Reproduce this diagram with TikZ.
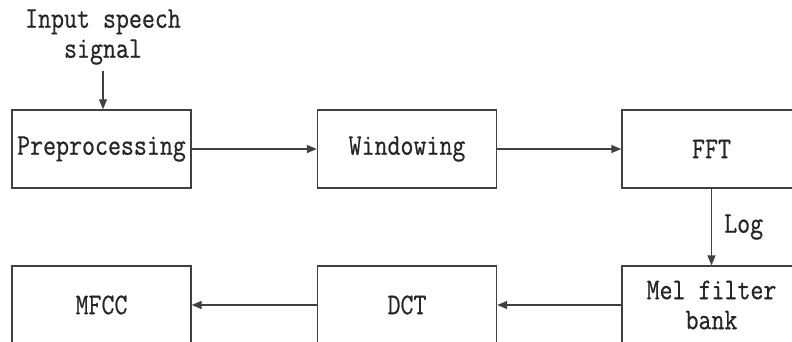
\documentclass[tikz,border=0pt]{standalone}
\usepackage{fontspec}
\setmonofont[FakeStretch=0.84,FakeBold=0.6]{Latin Modern Mono}
\usetikzlibrary{arrows.meta}
\tikzset{
  blk/.style={draw=black!75, line width=1.4pt, minimum width=179pt, minimum height=78pt,
    inner sep=0pt, align=center, font=\ttfamily\fontsize{30}{32}\selectfont, text=black!85},
  flow/.style={draw=black!75, line width=1.4pt, -{Triangle[length=10pt,width=8pt]}},
  lbl/.style={font=\ttfamily\fontsize{30}{32}\selectfont, text=black!85, inner sep=0pt, align=center}
}
\begin{document}
\begin{tikzpicture}[x=1pt,y=-1pt]
  \useasboundingbox (0,0) rectangle (792,342);
  \clip (0,0) rectangle (792,342);
  % top row
  \node[blk] (pre) at (101.5,149) {Preprocessing};
  \node[blk] (win) at (407,149) {Windowing};
  \node[blk] (fft) at (711.5,149) {FFT};
  % bottom row
  \node[blk] (mfcc) at (101.5,305) {MFCC};
  \node[blk] (dct) at (407,305) {DCT};
  \node[blk] (mel) at (711.5,305) {Mel filter\\[-2pt]bank};
  % input label
  \node[lbl] (inp) at (103,37) {Input speech\\[-2pt]signal};
  \coordinate (inpend) at (103,71);
  % connectors
  \draw[flow] (inpend) -- (pre.north -| inpend);
  \draw[flow] (pre) -- (win);
  \draw[flow] (win) -- (fft);
  \draw[flow] (fft) -- node[lbl, right=12pt] (log) {Log} (mel);
  \draw[flow] (mel) -- (dct);
  \draw[flow] (dct) -- (mfcc);
\end{tikzpicture}
\end{document}
